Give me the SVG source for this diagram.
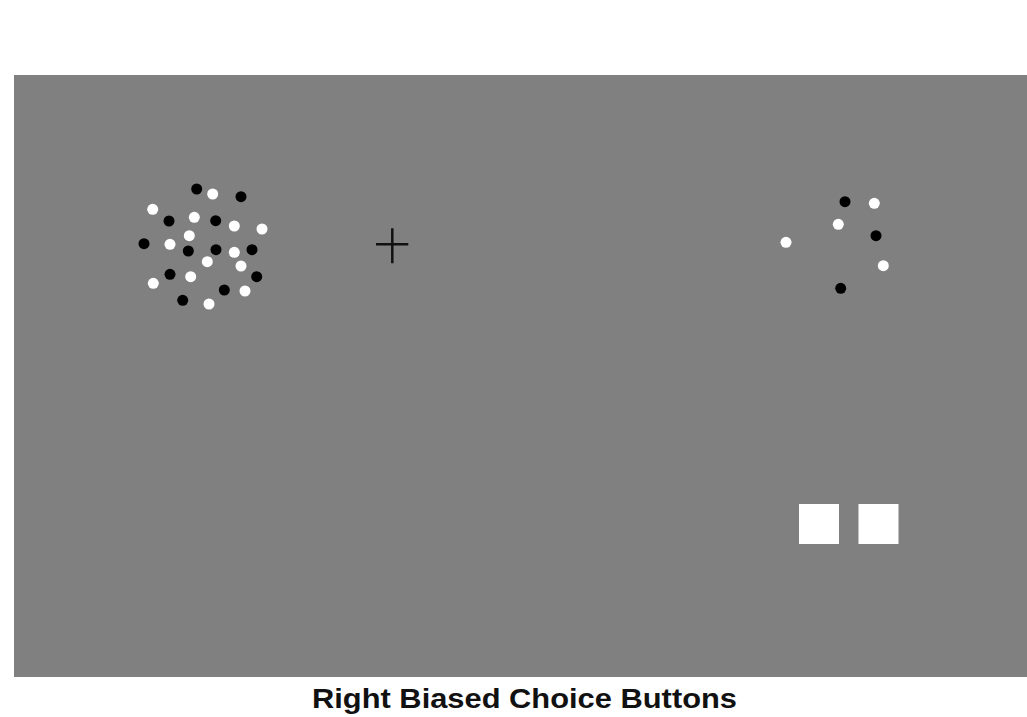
<svg xmlns="http://www.w3.org/2000/svg" width="1027" height="717" viewBox="0 0 1027 717">
<style>
.b{fill:#000}
.w{fill:#fff}
.cap{font-family:"Liberation Sans",Arial,sans-serif;font-weight:bold;font-size:28.5px;fill:#111}
</style>
<rect width="1027" height="717" fill="#fff"/>
<rect x="14" y="75" width="1013" height="602" fill="#808080"/>
<g id="left-cluster">
<circle class="b" cx="196.7" cy="189" r="5.5"/>
<circle class="w" cx="212.7" cy="194" r="5.5"/>
<circle class="b" cx="241" cy="196.7" r="5.5"/>
<circle class="w" cx="152.7" cy="209.3" r="5.5"/>
<circle class="b" cx="169" cy="221" r="5.5"/>
<circle class="w" cx="194.3" cy="217.3" r="5.5"/>
<circle class="b" cx="215.7" cy="220.7" r="5.5"/>
<circle class="w" cx="234.3" cy="226" r="5.5"/>
<circle class="w" cx="262" cy="229" r="5.5"/>
<circle class="w" cx="189.3" cy="235.7" r="5.5"/>
<circle class="b" cx="144" cy="243.7" r="5.5"/>
<circle class="w" cx="170" cy="244.3" r="5.5"/>
<circle class="b" cx="188.3" cy="251" r="5.5"/>
<circle class="b" cx="216" cy="249.7" r="5.5"/>
<circle class="w" cx="234.3" cy="252.3" r="5.5"/>
<circle class="b" cx="252" cy="249.7" r="5.5"/>
<circle class="w" cx="207.3" cy="261.7" r="5.5"/>
<circle class="w" cx="241" cy="266" r="5.5"/>
<circle class="b" cx="170" cy="274.3" r="5.5"/>
<circle class="w" cx="190.7" cy="276.7" r="5.5"/>
<circle class="b" cx="256.7" cy="276.7" r="5.5"/>
<circle class="w" cx="153.3" cy="283.3" r="5.5"/>
<circle class="b" cx="224.3" cy="290" r="5.5"/>
<circle class="w" cx="245" cy="291" r="5.5"/>
<circle class="b" cx="182.7" cy="300.3" r="5.5"/>
<circle class="w" cx="209" cy="304" r="5.5"/>
</g>
<g id="fixation">
<path d="M376 244.3H408.3M392.3 228.3V263.3" stroke="#111" stroke-width="2.5" fill="none"/>
</g>
<g id="right-cluster">
<circle class="b" cx="845" cy="201.7" r="5.5"/>
<circle class="w" cx="874.3" cy="203.3" r="5.5"/>
<circle class="w" cx="838.3" cy="224.3" r="5.5"/>
<circle class="w" cx="786" cy="242.3" r="5.5"/>
<circle class="b" cx="876" cy="235.7" r="5.5"/>
<circle class="w" cx="883.3" cy="265.7" r="5.5"/>
<circle class="b" cx="840.7" cy="288.3" r="5.5"/>
</g>
<g id="buttons">
<rect class="w" x="799" y="504" width="40" height="40"/>
<rect class="w" x="858.5" y="504" width="40" height="40"/>
</g>
<text class="cap" x="312" y="708" textLength="425" lengthAdjust="spacingAndGlyphs">Right Biased Choice Buttons</text>
</svg>
